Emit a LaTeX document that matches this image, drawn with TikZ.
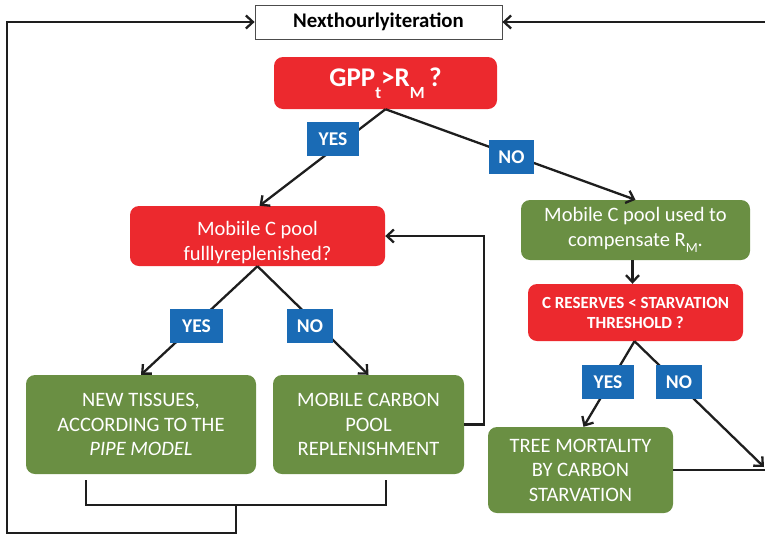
\documentclass[tikz,border=0pt]{standalone}
\usepackage{fontspec}
\setmainfont{Carlito}
\usetikzlibrary{arrows.meta,calc}
\definecolor{cred}{HTML}{EC292E}
\definecolor{cgreen}{HTML}{6A8F43}
\definecolor{cblue}{HTML}{1A6BB5}
\definecolor{cline}{HTML}{1E1E1E}
\begin{document}
\begin{tikzpicture}[x=1pt,y=-1pt,
  box/.style={rounded corners=9pt, text=white, align=center, inner sep=0pt, font=\fontsize{20.5}{24.5}\selectfont},
  redbox/.style={box, fill=cred},
  greenbox/.style={box, fill=cgreen},
  lbl/.style={fill=cblue, text=white, inner sep=0pt, font=\bfseries\fontsize{19.5}{19.5}\selectfont, minimum height=34pt},
  conn/.style={draw=cline, line width=2.3pt, -{Straight Barb[length=7pt,width=13pt]}},
  link/.style={draw=cline, line width=2.3pt},
]
\useasboundingbox (0,0) rectangle (765,536);

\node[draw=gray!60!black, line width=0.8pt, fill=white, minimum width=247pt, minimum height=34pt, inner sep=0pt, font=\bfseries\fontsize{20.8}{20.8}\selectfont] (next) at (378.5,22) {Nexthourlyiteration};

\node[redbox, minimum width=223pt, minimum height=52pt, font=\bfseries\fontsize{27}{27}\selectfont] (gpp) at (385.5,83) {GPP\raisebox{-0.45em}{\fontsize{17}{17}\selectfont t}>R\raisebox{-0.45em}{\fontsize{17}{17}\selectfont M}\,?};

\node[redbox, minimum width=255pt, minimum height=60pt] (pool) at (257.5,236) {\rule{0pt}{27pt}Mobiile C pool\\fulllyreplenished?};

\node[greenbox, minimum width=229pt, minimum height=60pt] (used) at (635.5,230) {Mobile C pool used to\\compensate R\raisebox{-0.3em}{\fontsize{14}{14}\selectfont M}.};

\node[redbox, minimum width=215pt, minimum height=57pt, font=\bfseries\fontsize{17}{20}\selectfont] (res) at (635.5,312.5) {C RESERVES < STARVATION\\THRESHOLD ?};

\node[greenbox, minimum width=230pt, minimum height=99pt] (newt) at (141,424.5) {NEW TISSUES,\\ACCORDING TO THE\\\textit{PIPE MODEL}};

\node[greenbox, minimum width=191pt, minimum height=99pt] (mob) at (368.5,424.5) {MOBILE CARBON\\POOL\\REPLENISHMENT};

\node[greenbox, minimum width=185pt, minimum height=86pt] (tree) at (580.5,470) {TREE MORTALITY\\BY CARBON\\STARVATION};

% coordinates
\coordinate (blt) at (86,480);
\coordinate (brt) at (386,480);
\coordinate (bm) at (236,505);
\coordinate (lc) at (7,533);
\coordinate (rc) at (766,470);
\coordinate (no3end) at (764,467);
\coordinate (mc) at (484,424.5);

% connectors
\draw[conn] (gpp.south) -- ($(pool.north)+(2,0)$);
\draw[conn] (gpp.south) -- (used.north);
\draw[conn] (pool.south) -- (newt.north);
\draw[conn] (pool.south) -- (mob.north);
\draw[conn] ($(used.south)+(-3,0)$) -- ($(res.north)+(-3,0)$);
\draw[conn] ($(res.south)+(-1,0)$) -- ($(tree.north)+(3,0)$);
\draw[conn] ($(res.south)+(-1,0)$) -- (no3end);
\draw[conn] (mob.east) -- (mc) |- (pool.east);
\draw[link] (blt) -- ++(0,25) -| (brt);
\draw[conn] (bm) |- (lc) |- (next.west);
\draw[link] (tree.east) -- (rc);
\draw[conn] (rc) |- (next.east);

% labels
\node[lbl, minimum width=52pt] (yes1) at (333,139) {YES};
\node[lbl, minimum width=45pt] (no1) at (511.5,157) {NO};
\node[lbl, minimum width=53pt] (yes2) at (196.5,326) {YES};
\node[lbl, minimum width=46pt] (no2) at (310,326) {NO};
\node[lbl, minimum width=52pt] (yes3) at (608,382) {YES};
\node[lbl, minimum width=46pt] (no3) at (679,382) {NO};
\end{tikzpicture}
\end{document}
